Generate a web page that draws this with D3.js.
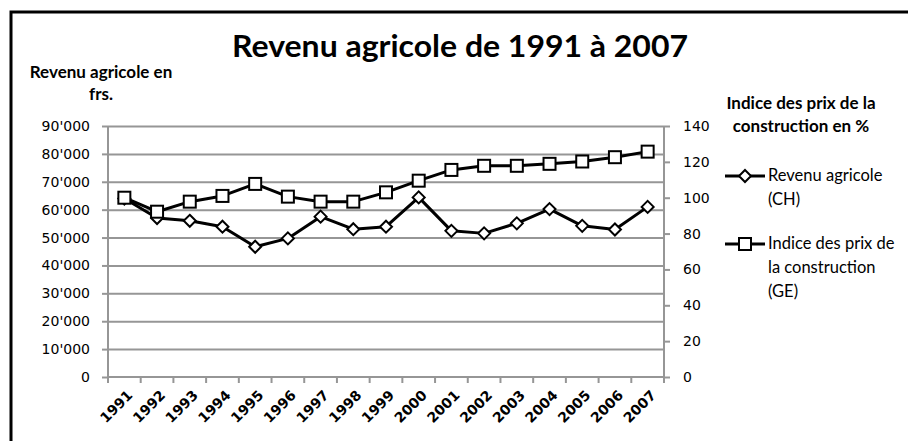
<!DOCTYPE html>
<html>
<head>
<meta charset="utf-8">
<script src="https://cdn.jsdelivr.net/npm/d3@7"></script>
<style>
  body { margin: 0; background: #fff; }
  svg { display: block; }
  .grid line { stroke: #969696; stroke-width: 2; }
  .grid path { display: none; }
  .axis path, .axis line { stroke: #969696; stroke-width: 2; }
  .axis text { font-family: "DejaVu Sans", sans-serif; font-size: 14px; fill: #000; }
  .xaxis text { font-weight: bold; font-size: 14px; }
  .ttl { font-family: Lato, sans-serif; font-weight: bold; fill: #000; }
  .leg { font-family: Lato, sans-serif; font-size: 16.5px; fill: #000; }
</style>
</head>
<body>
<div id="chart"></div>
<script>
// data
var years = ["1991","1992","1993","1994","1995","1996","1997","1998","1999","2000","2001","2002","2003","2004","2005","2006","2007"]
var revenu = [64000, 57000, 56000, 53900, 46700, 49700, 57500, 53000, 53900, 64400, 52400, 51500, 55100, 60200, 54200, 52900, 61000]
var indice = [100, 92.2, 97.8, 101, 107.7, 100.6, 97.8, 97.8, 103, 109.5, 115.5, 117.8, 117.8, 118.9, 120.2, 122.6, 125.7]
var leftTicks = [0, 10000, 20000, 30000, 40000, 50000, 60000, 70000, 80000, 90000]
var rightTicks = [0, 20, 40, 60, 80, 100, 120, 140]

var W = 908, H = 441
var margin = {top: 126, right: 244, bottom: 64, left: 108}
var width = W - margin.left - margin.right
var height = H - margin.top - margin.bottom

var svg = d3.select("#chart").append("svg")
    .attr("width", W)
    .attr("height", H)

// outer frame (right and bottom run off the picture)
svg.append("rect")
    .attr("x", 11).attr("y", 12)
    .attr("width", W + 20).attr("height", H + 20)
    .attr("fill", "none")
    .attr("stroke", "#000")
    .attr("stroke-width", 3)

var g = svg.append("g")
    .attr("transform", "translate(" + margin.left + "," + margin.top + ")")

var x = d3.scaleBand().domain(years).range([0, width])
var yL = d3.scaleLinear().domain([0, 90000]).range([height, 0])
var yR = d3.scaleLinear().domain([0, 140]).range([height, 0])

var fmt = d3.formatLocale({decimal: ".", thousands: "'", grouping: [3], currency: ["", ""]}).format(",")

// gridlines
g.append("g")
    .attr("class", "grid")
    .call(d3.axisLeft(yL).tickValues(leftTicks.slice(1)).tickSize(-width).tickFormat(""))

// left axis
g.append("g")
    .attr("class", "axis")
    .call(d3.axisLeft(yL).tickValues(leftTicks).tickSize(6).tickPadding(12).tickFormat(fmt))
    .select(".domain").attr("d", "M0," + height + "V0")

// right axis
g.append("g")
    .attr("class", "axis")
    .attr("transform", "translate(" + width + ",0)")
    .call(d3.axisRight(yR).tickValues(rightTicks).tickSize(6).tickPadding(13))
    .select(".domain").attr("d", "M0," + height + "V0")

// x axis: labels at category centres, ticks at boundaries
var xa = g.append("g")
    .attr("class", "axis xaxis")
    .attr("transform", "translate(0," + height + ")")
    .call(d3.axisBottom(x).tickSize(0))
xa.select(".domain").attr("d", "M0,0H" + width)
xa.selectAll("text")
    .attr("text-anchor", "end")
    .attr("dy", null)
    .attr("transform", "translate(7,17) rotate(-45)")

var bounds = years.map(function(d) { return x(d) }).concat([width])
xa.selectAll(".btick")
    .data(bounds)
    .enter().append("line")
    .attr("class", "btick")
    .attr("x1", function(d) { return d }).attr("x2", function(d) { return d })
    .attr("y1", 0).attr("y2", 6)

// series
var cx = function(i) { return x(years[i]) + x.bandwidth() / 2 }

g.append("path")
    .datum(revenu)
    .attr("fill", "none")
    .attr("stroke", "#000")
    .attr("stroke-width", 3)
    .attr("stroke-linejoin", "round")
    .attr("d", d3.line().x(function(d, i) { return cx(i) }).y(function(d) { return yL(d) }))

g.selectAll(".dia")
    .data(revenu)
    .enter().append("path")
    .attr("class", "dia")
    .attr("d", "M0,-6L6,0L0,6L-6,0Z")
    .attr("transform", function(d, i) { return "translate(" + cx(i) + "," + yL(d) + ")" })
    .attr("fill", "#fff").attr("stroke", "#000").attr("stroke-width", 2)

g.append("path")
    .datum(indice)
    .attr("fill", "none")
    .attr("stroke", "#000")
    .attr("stroke-width", 3)
    .attr("stroke-linejoin", "round")
    .attr("d", d3.line().x(function(d, i) { return cx(i) }).y(function(d) { return yR(d) }))

g.selectAll(".sq")
    .data(indice)
    .enter().append("rect")
    .attr("class", "sq")
    .attr("x", function(d, i) { return cx(i) - 6 })
    .attr("y", function(d) { return yR(d) - 6 })
    .attr("width", 12).attr("height", 12)
    .attr("fill", "#fff").attr("stroke", "#000").attr("stroke-width", 2)

// titles
svg.append("text")
    .attr("class", "ttl")
    .attr("x", 460).attr("y", 57)
    .attr("text-anchor", "middle")
    .attr("font-size", 31)
    .attr("textLength", 456).attr("lengthAdjust", "spacingAndGlyphs")
    .text("Revenu agricole de 1991 à 2007")

var lt = svg.append("text").attr("class", "ttl").attr("font-size", 17).attr("text-anchor", "middle")
lt.append("tspan").attr("x", 101).attr("y", 78).text("Revenu agricole en")
lt.append("tspan").attr("x", 101).attr("y", 100).text("frs.")

var rt = svg.append("text").attr("class", "ttl").attr("font-size", 17).attr("text-anchor", "middle")
rt.append("tspan").attr("x", 801).attr("y", 109).text("Indice des prix de la")
rt.append("tspan").attr("x", 801).attr("y", 132).text("construction en %")

// legend
var legend = [
    {lines: ["Revenu agricole", "(CH)"], marker: "dia", y: 176},
    {lines: ["Indice des prix de", "la construction", "(GE)"], marker: "sq", y: 244}
]
legend.forEach(function(l) {
    svg.append("line")
        .attr("x1", 725).attr("x2", 765)
        .attr("y1", l.y).attr("y2", l.y)
        .attr("stroke", "#000").attr("stroke-width", 3)
    if (l.marker == "dia") {
        svg.append("path")
            .attr("d", "M0,-6L6,0L0,6L-6,0Z")
            .attr("transform", "translate(745," + l.y + ")")
            .attr("fill", "#fff").attr("stroke", "#000").attr("stroke-width", 2)
    } else {
        svg.append("rect")
            .attr("x", 739).attr("y", l.y - 6)
            .attr("width", 12).attr("height", 12)
            .attr("fill", "#fff").attr("stroke", "#000").attr("stroke-width", 2)
    }
    var t = svg.append("text").attr("class", "leg")
    l.lines.forEach(function(s, k) {
        t.append("tspan").attr("x", 768).attr("y", l.y + 5 + k * 24).text(s)
    })
})
</script>
</body>
</html>
